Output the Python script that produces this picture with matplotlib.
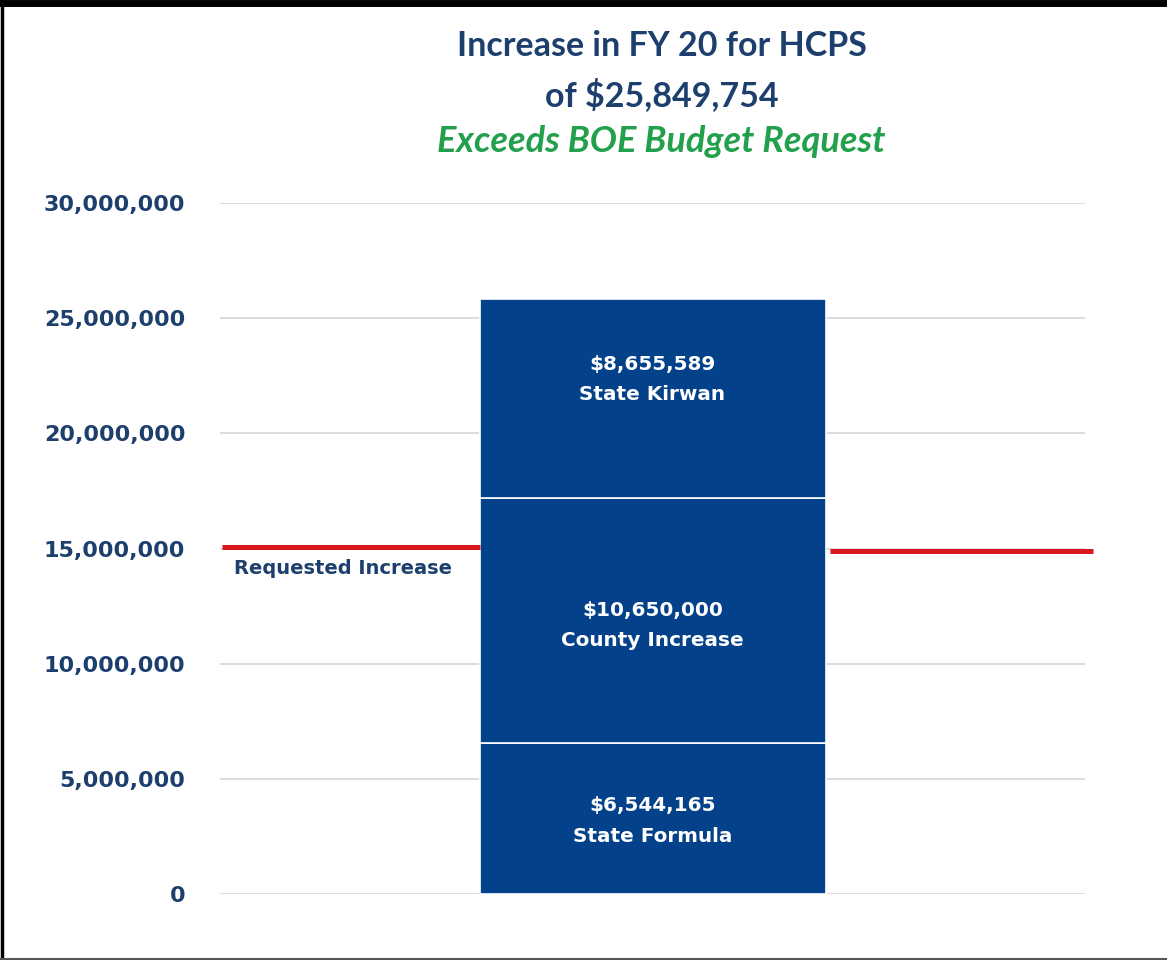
import matplotlib
matplotlib.use("Agg")
import matplotlib.pyplot as plt
from matplotlib.lines import Line2D
from matplotlib.ticker import FuncFormatter

# ---- data ----
segment_names = ["State Formula", "County Increase", "State Kirwan"]
segment_values = [6544165, 10650000, 8655589]
requested_increase = 15000000
total_increase = 25849754
y_ticks = [0, 5000000, 10000000, 15000000, 20000000, 25000000, 30000000]
title_lines = ["Increase in FY 20 for HCPS", "of $25,849,754"]
subtitle = "Exceeds BOE Budget Request"
requested_label = "Requested Increase"

# ---- style ----
BAR = "#03418a"
NAVY = "#1d3f6e"
GREEN = "#22a04b"
RED = "#d7191f"
TITLE_FONT = "Lato"
BODY_FONT = "DejaVu Sans"

fig = plt.figure(figsize=(11.67, 9.6), dpi=100)
fig.patch.set_facecolor("white")
W, H = 1167, 960
ax = fig.add_axes([220 / W, 1 - 894 / H, (1085 - 220) / W, (894 - 203) / H])
ax.set_xlim(-1.25, 1.25)
ax.set_ylim(0, 30000000)

bottom = 0
label_offsets = [-100000, -200000, 800000]
for name, val, off in zip(segment_names, segment_values, label_offsets):
    ax.bar(0, val, bottom=bottom, width=1.0, color=BAR, edgecolor="white",
           linewidth=1.2, zorder=3)
    mid = bottom + val / 2 + off
    ax.text(0, mid, f"${val:,.0f}\n{name}", ha="center", va="center",
            color="white", fontsize=14.4, fontweight="bold", family=BODY_FONT,
            linespacing=1.75, zorder=4)
    bottom += val

# requested increase line, interrupted by the bar
ax.plot([-1.244, -0.5], [requested_increase + 50000] * 2, color=RED, lw=3.6,
        solid_capstyle="butt", clip_on=False, zorder=5)
ax.plot([0.513, 1.273], [requested_increase - 100000] * 2, color=RED, lw=3.6,
        solid_capstyle="butt", clip_on=False, zorder=5)
ax.text(-1.21, requested_increase - 850000, requested_label, ha="left", va="center",
        color=NAVY, fontsize=14, fontweight="bold", family=BODY_FONT)

ax.set_yticks(y_ticks)
ax.yaxis.set_major_formatter(FuncFormatter(lambda v, p: f"{v:,.0f}"))
ax.tick_params(axis="y", length=0, pad=25, labelsize=16, labelcolor=NAVY)
for lab in ax.get_yticklabels():
    lab.set_fontweight("bold")
    lab.set_family(BODY_FONT)
ax.set_xticks([])
ax.grid(axis="y", color="#d9d9d9", linewidth=1.3, zorder=0)
ax.set_axisbelow(True)
for s in ax.spines.values():
    s.set_visible(False)

# titles
fig.text(662 / W, 1 - 46 / H, title_lines[0], ha="center", va="center",
         color=NAVY, fontsize=24.5, fontweight="bold", family=TITLE_FONT)
fig.text(662 / W, 1 - 95 / H, title_lines[1], ha="center", va="center",
         color=NAVY, fontsize=24.5, fontweight="bold", family=TITLE_FONT)
fig.text(661 / W, 1 - 142 / H, subtitle, ha="center", va="center",
         color=GREEN, fontsize=26, fontweight="bold", style="italic",
         family=TITLE_FONT)

# frame border
fig.add_artist(Line2D([0, 1], [1 - 3 / H] * 2, transform=fig.transFigure,
                      color="black", lw=5))
fig.add_artist(Line2D([1.5 / W] * 2, [0, 1], transform=fig.transFigure,
                      color="black", lw=2.5))
fig.add_artist(Line2D([0, 1], [1 / H] * 2, transform=fig.transFigure,
                      color="#555555", lw=1.5))

fig.savefig("out.png", dpi=100, facecolor="white")
